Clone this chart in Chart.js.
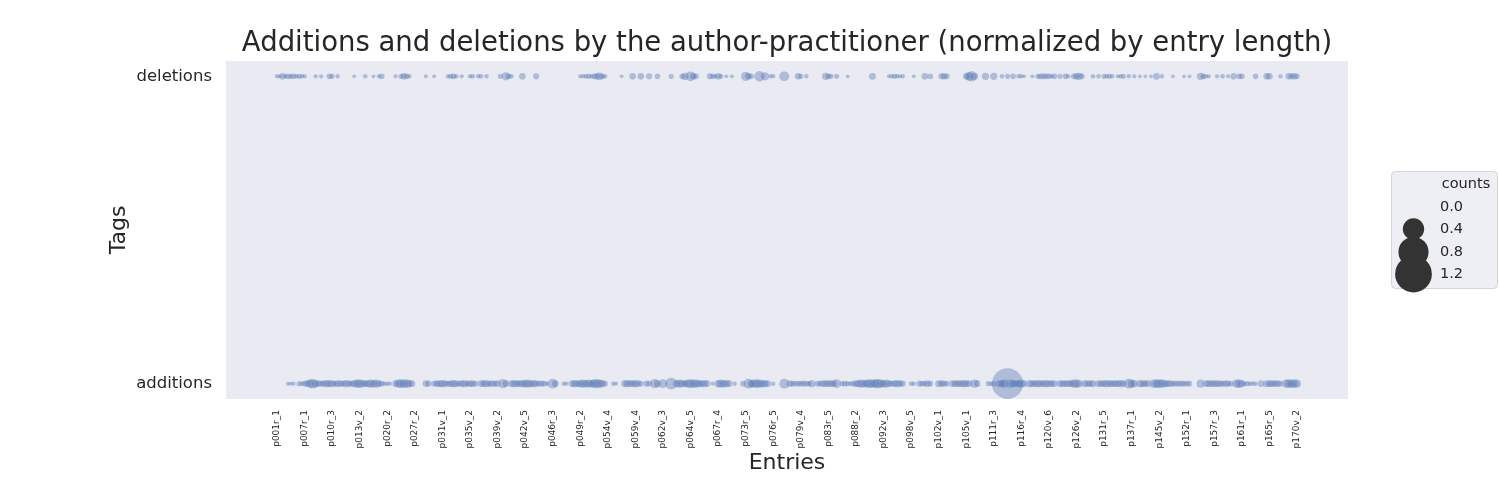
<!DOCTYPE html>
<html>
<head>
<meta charset="utf-8">
<script src="https://cdn.jsdelivr.net/npm/chart.js@4.4.1/dist/chart.umd.min.js"></script>
<style>
  html, body { margin: 0; padding: 0; background: #ffffff; }
  #wrap { width: 1500px; height: 500px; }
</style>
</head>
<body>
<div id="wrap"><canvas id="c" width="1500" height="500"></canvas></div>
<script>
// tick labels, one every 10 entries (entry index = 10 * position)
const tickLabels = [
  'p001r_1', 'p007r_1', 'p010r_3', 'p013v_2', 'p020r_2', 'p027r_2', 'p031v_1', 'p035v_2',
  'p039v_2', 'p042v_5', 'p046r_3', 'p049r_2', 'p054v_4', 'p059v_4', 'p062v_3', 'p064v_5',
  'p067r_4', 'p073r_5', 'p076r_5', 'p079v_4', 'p083r_5', 'p088r_2', 'p092v_3', 'p098v_5',
  'p102v_1', 'p105v_1', 'p111r_3', 'p116r_4', 'p120v_6', 'p126v_2', 'p131r_5', 'p137r_1',
  'p145v_2', 'p152r_1', 'p157r_3', 'p161r_1', 'p165r_5', 'p170v_2'
];
const tags = ['additions', 'deletions'];
const legendCounts = [0.0, 0.4, 0.8, 1.2];

// normalized counts per entry (371 entries, 10 per row)
const deletions = [
  0.01, 0.005, 0.03, 0.01, 0.02, 0.015, 0.02, 0.01, 0.015, 0.01,
  0.01, 0, 0, 0, 0.008, 0, 0.008, 0, 0, 0.02,
  0.015, 0, 0.01, 0, 0, 0, 0, 0, 0.004, 0,
  0, 0, 0.01, 0, 0, 0.004, 0, 0.01, 0.02, 0,
  0, 0, 0, 0.008, 0, 0.015, 0.03, 0.02, 0.01, 0,
  0, 0, 0, 0, 0.008, 0, 0, 0.006, 0, 0,
  0, 0, 0.01, 0.015, 0.02, 0.012, 0, 0.008, 0, 0,
  0.01, 0.012, 0, 0.01, 0.012, 0, 0.01, 0, 0, 0,
  0, 0.015, 0, 0.05, 0.02, 0.01, 0, 0, 0, 0.03,
  0, 0, 0, 0, 0.025, 0, 0, 0, 0, 0,
  0, 0, 0, 0, 0, 0, 0, 0, 0, 0,
  0.008, 0.01, 0.012, 0.015, 0.01, 0.02, 0.03, 0.045, 0.02, 0.01,
  0, 0, 0, 0, 0, 0.005, 0, 0, 0, 0.03,
  0, 0, 0.03, 0, 0, 0.025, 0, 0, 0.02, 0,
  0, 0, 0, 0.015, 0, 0, 0, 0.02, 0.04, 0,
  0.08, 0.03, 0.02, 0, 0, 0, 0, 0.025, 0.02, 0.01,
  0.03, 0.015, 0, 0.006, 0, 0.006, 0, 0, 0, 0,
  0.07, 0.03, 0.02, 0, 0, 0.09, 0, 0.05, 0, 0.01,
  0.01, 0, 0, 0, 0.08, 0, 0, 0, 0, 0.03,
  0.015, 0, 0.01, 0, 0, 0, 0, 0, 0, 0.04,
  0.02, 0.015, 0, 0.015, 0, 0, 0, 0.004, 0, 0,
  0, 0, 0, 0, 0, 0, 0.035, 0, 0, 0,
  0, 0, 0.008, 0.01, 0.015, 0.01, 0.008, 0.01, 0, 0,
  0, 0.006, 0, 0, 0, 0.03, 0, 0.02, 0, 0,
  0, 0.025, 0.03, 0.02, 0, 0, 0, 0, 0, 0,
  0.03, 0.06, 0.09, 0.04, 0, 0, 0, 0.04, 0, 0,
  0.04, 0, 0, 0.012, 0, 0.015, 0, 0.02, 0, 0.012,
  0.01, 0.006, 0, 0, 0.006, 0, 0.015, 0.02, 0.025, 0.02,
  0.02, 0.01, 0.02, 0, 0.015, 0, 0.02, 0.01, 0, 0.02,
  0.03, 0.04, 0.02, 0, 0, 0, 0.012, 0, 0.01, 0,
  0.015, 0.01, 0.015, 0.01, 0, 0.008, 0.01, 0.015, 0, 0.01,
  0, 0.008, 0, 0.004, 0, 0.004, 0, 0.004, 0, 0.035,
  0, 0.01, 0, 0, 0, 0.004, 0, 0, 0, 0.004,
  0, 0.004, 0, 0, 0, 0.04, 0.02, 0.012, 0.008, 0,
  0, 0.008, 0, 0.012, 0, 0.008, 0, 0.03, 0, 0.02,
  0.02, 0, 0, 0, 0, 0.02, 0, 0, 0, 0.03,
  0.03, 0, 0, 0, 0.01, 0, 0, 0.03, 0.025, 0.03,
  0.02
];
const additions = [
  0, 0, 0, 0, 0.008, 0.006, 0.008, 0, 0.015, 0.012,
  0.02, 0.03, 0.05, 0.08, 0.04, 0.03, 0.02, 0.03, 0.04, 0.03,
  0.04, 0.02, 0.035, 0.03, 0.02, 0.04, 0.03, 0.02, 0.04, 0.05,
  0.06, 0.04, 0.03, 0.04, 0.05, 0.04, 0.05, 0.03, 0.02, 0.01,
  0.01, 0.008, 0, 0.03, 0.05, 0.06, 0.05, 0.06, 0.04, 0.03,
  0, 0, 0, 0, 0.03, 0.025, 0, 0.02, 0.03, 0.035,
  0.04, 0.03, 0.02, 0.035, 0.04, 0.03, 0.02, 0.03, 0.04, 0.02,
  0.035, 0.03, 0.02, 0, 0.03, 0.035, 0.04, 0.02, 0.03, 0.02,
  0.03, 0, 0.07, 0.03, 0, 0.03, 0.04, 0.035, 0.03, 0.04,
  0.04, 0.05, 0.035, 0.04, 0.03, 0.02, 0.025, 0.02, 0.01, 0,
  0.08, 0.03, 0, 0, 0.01, 0.008, 0, 0.03, 0.04, 0.035,
  0.04, 0.05, 0.04, 0.05, 0.04, 0.06, 0.07, 0.05, 0.04, 0.02,
  0, 0, 0.01, 0.008, 0, 0, 0.03, 0.04, 0.035, 0.03,
  0.04, 0.03, 0.02, 0, 0.025, 0.02, 0, 0.07, 0.04, 0,
  0.06, 0, 0, 0.12, 0, 0.04, 0.05, 0.04, 0.03, 0.05,
  0.06, 0.05, 0.05, 0.04, 0.03, 0.04, 0.03, 0, 0.008, 0,
  0.04, 0.05, 0.04, 0.04, 0.03, 0, 0.01, 0, 0, 0.02,
  0, 0.08, 0.04, 0.05, 0.06, 0.05, 0.04, 0.04, 0.03, 0,
  0.01, 0, 0, 0, 0.08, 0, 0.03, 0.02, 0.02, 0.02,
  0.02, 0.025, 0.02, 0.015, 0.04, 0, 0.02, 0.02, 0.03, 0.03,
  0.035, 0.03, 0.03, 0.06, 0, 0.015, 0.02, 0.015, 0.01, 0.02,
  0.03, 0.04, 0.05, 0.04, 0.05, 0.06, 0.05, 0.06, 0.07, 0.05,
  0.04, 0.05, 0.03, 0.02, 0.03, 0.04, 0.03, 0.025, 0, 0,
  0.012, 0.01, 0, 0.025, 0.02, 0.02, 0.03, 0.02, 0, 0,
  0.035, 0.03, 0.025, 0.02, 0, 0.03, 0.035, 0.03, 0.035, 0.04,
  0.035, 0.03, 0, 0.05, 0.03, 0, 0, 0, 0.015, 0.01,
  0.02, 0, 0.03, 0.04, 0.05, 0.85, 0.05, 0.04, 0.03, 0.04,
  0.05, 0.03, 0, 0.04, 0.035, 0.03, 0.04, 0.035, 0.03, 0.04,
  0.035, 0.03, 0.03, 0, 0.03, 0.035, 0.03, 0.035, 0.03, 0.05,
  0.06, 0.04, 0, 0.035, 0.03, 0.03, 0.035, 0, 0.03, 0.035,
  0.03, 0.04, 0.03, 0.035, 0.035, 0.03, 0.04, 0.03, 0, 0.08,
  0.05, 0.04, 0, 0.04, 0.035, 0.03, 0.03, 0, 0.05, 0.06,
  0.06, 0.05, 0.04, 0.03, 0.03, 0.02, 0.025, 0.02, 0.025, 0.02,
  0.02, 0.02, 0, 0, 0, 0.05, 0, 0.03, 0.035, 0.03,
  0.03, 0.035, 0.03, 0.02, 0.03, 0.025, 0.02, 0, 0.05, 0.06,
  0.04, 0.01, 0.015, 0.01, 0.012, 0.01, 0, 0.03, 0, 0.035,
  0.035, 0.03, 0.03, 0.035, 0.02, 0, 0.05, 0.06, 0.05, 0.06,
  0.05
];

const FONT = "'DejaVu Sans', 'Liberation Sans', sans-serif";
const TEXT = '#262626';
const BLUE = 'rgba(76, 114, 176, 0.38)';

// marker diameter (px) for a count: area grows linearly with the value
function diameter(v) {
  return Math.sqrt(9 + 1120 * v);
}

function toPoints(values, y) {
  const pts = [];
  values.forEach(function(v, i) {
    if (v > 0) pts.push({x: i, y: y, r: diameter(v) / 2});
  });
  return pts;
}

const nEntries = additions.length;
const pad = (nEntries - 1) * 0.05;

// size legend drawn beside the plot, like seaborn's
const sizeLegend = {
  id: 'sizeLegend',
  afterDraw: function(chart) {
    const ctx = chart.ctx;
    ctx.save();
    ctx.beginPath();
    if (ctx.roundRect) ctx.roundRect(1391.5, 171.5, 106, 117, 4);
    else ctx.rect(1391.5, 171.5, 106, 117);
    ctx.fillStyle = 'rgba(234, 234, 242, 0.8)';
    ctx.fill();
    ctx.strokeStyle = 'rgba(204, 204, 204, 0.8)';
    ctx.lineWidth = 1;
    ctx.stroke();

    ctx.fillStyle = TEXT;
    ctx.font = '14.5px ' + FONT;
    ctx.textBaseline = 'middle';
    ctx.textAlign = 'center';
    ctx.fillText('counts', 1466, 184);
    ctx.textAlign = 'left';
    const rowY = [207, 229, 252, 274];
    legendCounts.forEach(function(v, k) {
      if (v > 0) {
        ctx.beginPath();
        ctx.arc(1413.5, rowY[k], diameter(v) / 2, 0, Math.PI * 2);
        ctx.fillStyle = '#333333';
        ctx.fill();
      }
      ctx.fillStyle = TEXT;
      ctx.fillText(v.toFixed(1), 1440, rowY[k]);
    });
    ctx.restore();
  }
};

// axes background
const plotBg = {
  id: 'plotBg',
  beforeDraw: function(chart) {
    const a = chart.chartArea;
    chart.ctx.save();
    chart.ctx.fillStyle = '#EAEAF2';
    chart.ctx.fillRect(a.left, a.top, a.right - a.left, a.bottom - a.top);
    chart.ctx.restore();
  }
};

new Chart(document.getElementById('c'), {
  type: 'bubble',
  data: {
    datasets: [
      {label: 'deletions', data: toPoints(deletions, 1), backgroundColor: BLUE, borderWidth: 0},
      {label: 'additions', data: toPoints(additions, 0), backgroundColor: BLUE, borderWidth: 0}
    ]
  },
  options: {
    responsive: false,
    animation: false,
    devicePixelRatio: 1,
    events: [],
    layout: {padding: {left: 0, right: 152, top: 0, bottom: 0}},
    plugins: {
      legend: {display: false},
      tooltip: {enabled: false},
      title: {
        display: true,
        fullSize: false,
        text: 'Additions and deletions by the author-practitioner (normalized by entry length)',
        color: TEXT,
        font: {family: FONT, size: 27.5, weight: 'normal', lineHeight: 1.2},
        padding: {top: 27, bottom: 1}
      }
    },
    scales: {
      x: {
        type: 'linear',
        min: -pad,
        max: nEntries - 1 + pad,
        grid: {display: false, drawTicks: false},
        border: {display: false},
        afterFit: function(s) { s.height = 101; },
        ticks: {
          stepSize: 10,
          includeBounds: false,
          autoSkip: false,
          minRotation: 90,
          maxRotation: 90,
          padding: 11,
          color: TEXT,
          font: {family: FONT, size: 9},
          callback: function(v) {
            return v >= 0 && v % 10 === 0 && tickLabels[v / 10] ? tickLabels[v / 10] : '';
          }
        },
        title: {
          display: true,
          text: 'Entries',
          color: TEXT,
          font: {family: FONT, size: 22, lineHeight: 1.2},
          padding: {top: 0, bottom: 24}
        }
      },
      y: {
        type: 'linear',
        min: -0.05,
        max: 1.05,
        grid: {display: false, drawTicks: false},
        border: {display: false},
        afterFit: function(s) { s.width = 226; },
        afterBuildTicks: function(s) { s.ticks = [{value: 0}, {value: 1}]; },
        ticks: {
          padding: 14,
          color: TEXT,
          font: {family: FONT, size: 16.5},
          callback: function(v) { return tags[v]; }
        },
        title: {
          display: true,
          text: 'Tags',
          color: TEXT,
          font: {family: FONT, size: 22, lineHeight: 1.2},
          padding: {top: 106, bottom: 0}
        }
      }
    }
  },
  plugins: [plotBg, sizeLegend]
});
</script>
</body>
</html>
